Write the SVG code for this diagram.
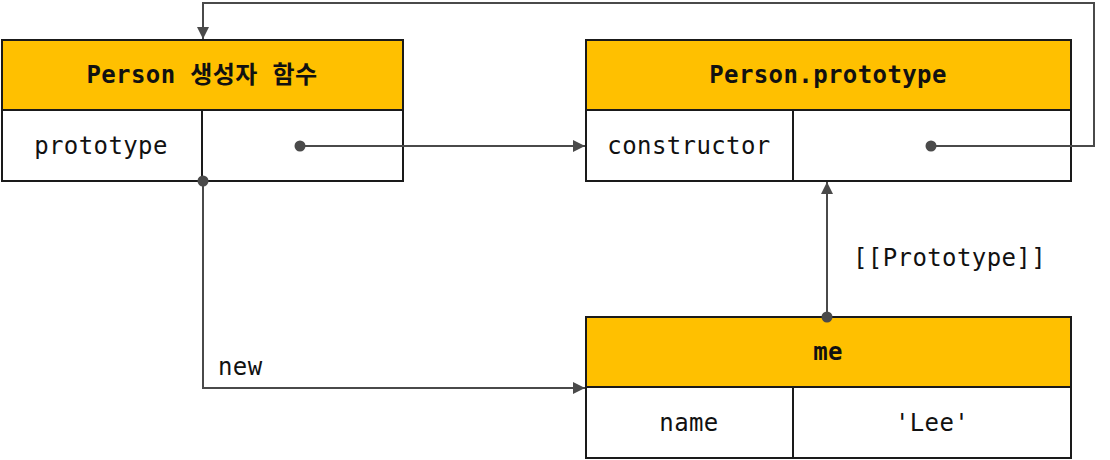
<svg xmlns="http://www.w3.org/2000/svg" width="1110" height="460" viewBox="0 0 1110 460">
<style>
.hdr{fill:#FFC000;stroke:#1a1a1a;stroke-width:2}
.row{fill:#fff;stroke:#1a1a1a;stroke-width:2}
.div{stroke:#1a1a1a;stroke-width:2}
.t{font-family:"DejaVu Sans Mono","Noto Sans CJK KR",monospace;font-size:24px;letter-spacing:0.4px;fill:#111;text-anchor:middle;dominant-baseline:central}
.b{font-weight:bold}
.c{fill:none;stroke:#4a4a4a;stroke-width:2}
.dot{fill:#4a4a4a}
.lbl{font-family:"DejaVu Sans Mono",monospace;font-size:24px;letter-spacing:0.4px;fill:#111}
</style>
<defs>
<marker id="ah" viewBox="0 0 10 10" refX="10" refY="5" markerWidth="6" markerHeight="6" orient="auto" markerUnits="strokeWidth">
<path d="M0,0 L10,5 L0,10 z" fill="#4a4a4a"/>
</marker>
</defs>
<g id="person-ctor">
<rect class="hdr" x="2" y="40" width="401" height="70"/>
<rect class="row" x="2" y="110" width="401" height="71"/>
<line class="div" x1="202" y1="110" x2="202" y2="181"/>
<text class="t b" x="202" y="75">Person 생성자 함수</text>
<text class="t" x="101" y="146">prototype</text>
</g>
<g id="person-prototype">
<rect class="hdr" x="586" y="40" width="485" height="70"/>
<rect class="row" x="586" y="110" width="485" height="71"/>
<line class="div" x1="793" y1="110" x2="793" y2="181"/>
<text class="t b" x="828" y="75">Person.prototype</text>
<text class="t" x="689" y="146">constructor</text>
</g>
<g id="me">
<rect class="hdr" x="586" y="317" width="485" height="70"/>
<rect class="row" x="586" y="387" width="485" height="71"/>
<line class="div" x1="793" y1="387" x2="793" y2="458"/>
<text class="t b" x="828" y="352">me</text>
<text class="t" x="689" y="423">name</text>
<text class="t" x="932" y="423">'Lee'</text>
</g>
<g id="connectors">
<path class="c" d="M300,146 H585" marker-end="url(#ah)"/>
<circle class="dot" cx="300" cy="146" r="5.5"/>
<path class="c" d="M931,146 H1094 V3 H203 V39" marker-end="url(#ah)"/>
<circle class="dot" cx="931" cy="146" r="5.5"/>
<path class="c" d="M203,181 V388 H585" marker-end="url(#ah)"/>
<circle class="dot" cx="203" cy="181" r="5.5"/>
<path class="c" d="M827,317 V182" marker-end="url(#ah)"/>
<circle class="dot" cx="827" cy="317" r="5.5"/>
<text class="lbl" x="218" y="375">new</text>
<text class="lbl" x="853" y="266">[[Prototype]]</text>
</g>
</svg>
